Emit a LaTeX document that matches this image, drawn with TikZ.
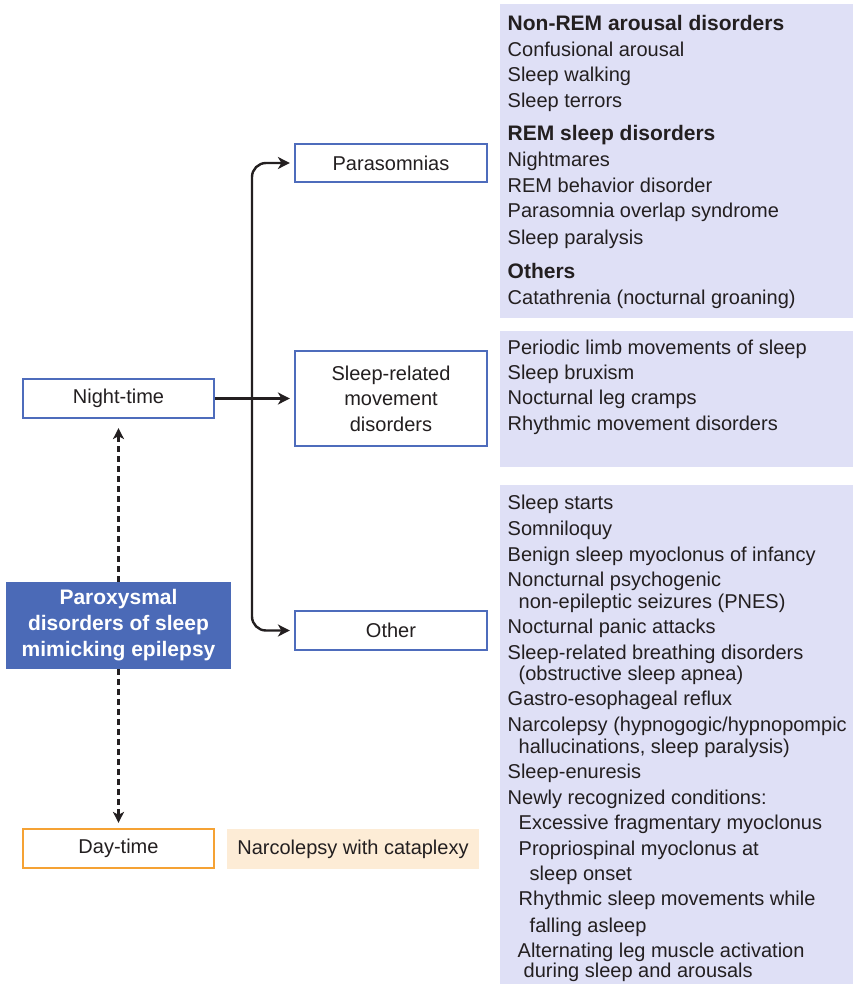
\documentclass[tikz,border=0pt]{standalone}
\usepackage{fontspec}
\setmainfont{Liberation Sans}
\usetikzlibrary{arrows.meta}
\definecolor{bluebd}{RGB}{78,108,188}
\definecolor{lav}{RGB}{223,224,246}
\definecolor{peach}{RGB}{253,236,214}
\definecolor{orng}{RGB}{245,162,52}
\definecolor{bluefill}{RGB}{75,106,183}
\definecolor{txt}{RGB}{35,31,32}
\newcommand\hd[1]{{\fontsize{21}{25}\selectfont\bfseries #1}}
\tikzset{
  bbox/.style={draw=bluebd, line width=2.2pt, fill=white, inner sep=0pt, text=txt,
    font=\fontsize{20}{25.5}\selectfont, align=center},
  obox/.style={bbox, draw=orng},
  panel/.style={fill=lav, inner sep=0pt, anchor=north west},
  item/.style={anchor=base west, inner sep=0pt, text=txt, font=\fontsize{20}{25.5}\selectfont},
  arr/.style={line width=2.4pt, -{Stealth[length=12pt,width=12pt,inset=3.5pt]}, txt},
  arrb/.style={line width=2.4pt, {Stealth[length=12pt,width=12pt,inset=3.5pt]}-{Stealth[length=12pt,width=12pt,inset=3.5pt]}, txt},
  darr/.style={line width=2.4pt, dash pattern=on 6pt off 4pt, -{Stealth[length=11pt,width=11pt,inset=3pt]}, txt}
}
\begin{document}
\begin{tikzpicture}[x=1pt,y=-1pt]
\useasboundingbox (0,0) rectangle (853,984);
% right panels
\node[panel, minimum width=353, minimum height=314] (p1) at (500,4) {};
\node[panel, minimum width=353, minimum height=136] (p2) at (500,331) {};
\node[panel, minimum width=353, minimum height=499] (p3) at (500,485) {};
% left boxes
\node[bbox, minimum width=191, minimum height=39] (night) at (118.5,398.5) {Night-time};
\node[obox, minimum width=191, minimum height=39] (day) at (118.5,848.5) {Day-time};
\node[fill=bluefill, inner sep=0pt, minimum width=225, minimum height=87, text=white,
  font=\fontsize{21}{26}\selectfont\bfseries, align=center] (parox) at (118.5,625.5)
  {Paroxysmal\\disorders of sleep\\mimicking epilepsy};
\node[fill=peach, inner sep=0pt, minimum width=252, minimum height=40, text=txt,
  font=\fontsize{20}{25}\selectfont] (narc) at (353,849) {Narcolepsy with cataplexy};
% middle boxes
\node[bbox, minimum width=192, minimum height=38] (para) at (391,163) {Parasomnias};
\node[bbox, minimum width=192, minimum height=95] (move) at (391,398.5) {Sleep-related\\movement\\disorders};
\node[bbox, minimum width=192, minimum height=39] (other) at (391,630.5) {Other};
% connectors
\coordinate (jx) at (252,398);
\draw[arr, shorten >=4pt] (night.east) -- (move.west);
\draw[arrb, rounded corners=14pt, shorten <=4pt, shorten >=4pt]
  (para.west) -| (jx |- other.west) -- (other.west);
\draw[darr, shorten >=9pt] (parox.north -| night.south) -- (night.south);
\draw[darr, shorten >=5pt] (parox.south -| day.north) -- (day.north);
% right texts
\foreach \x/\y/\t [count=\i] in {
  507.5/31/{\hd{Non-REM arousal disorders}},
  507.5/57/{Confusional arousal},
  507.5/82/{Sleep walking},
  507.5/108/{Sleep terrors},
  507.5/141/{\hd{REM sleep disorders}},
  507.5/167/{Nightmares},
  507.5/193/{REM behavior disorder},
  507.5/218/{Parasomnia overlap syndrome},
  507.5/244/{Sleep paralysis},
  507.5/278/{\hd{Others}},
  507.5/304/{Catathrenia (nocturnal groaning)},
  507.5/354/{Periodic limb movements of sleep},
  507.5/379/{Sleep bruxism},
  507.5/404/{Nocturnal leg cramps},
  507.5/430/{Rhythmic movement disorders},
  507.5/509/{Sleep starts},
  507.5/535/{Somniloquy},
  507.5/561/{Benign sleep myoclonus of infancy},
  507.5/586/{Noncturnal psychogenic},
  518.5/608/{non-epileptic seizures (PNES)},
  507.5/633/{Nocturnal panic attacks},
  507.5/659/{Sleep-related breathing disorders},
  518.5/680/{(obstructive sleep apnea)},
  507.5/705/{Gastro-esophageal reflux},
  507.5/731/{Narcolepsy (hypnogogic/hypnopompic},
  518.5/753/{hallucinations, sleep paralysis)},
  507.5/778/{Sleep-enuresis},
  507.5/804/{Newly recognized conditions:},
  518.5/829/{Excessive fragmentary myoclonus},
  518.5/855/{Propriospinal myoclonus at},
  529.5/880/{sleep onset},
  518.5/905/{Rhythmic sleep movements while},
  529.5/932/{falling asleep},
  517.5/957/{Alternating leg muscle activation},
  523.5/977/{during sleep and arousals}}
  \node[item] (r\i) at (\x,\y) {\t};
\end{tikzpicture}
\end{document}
